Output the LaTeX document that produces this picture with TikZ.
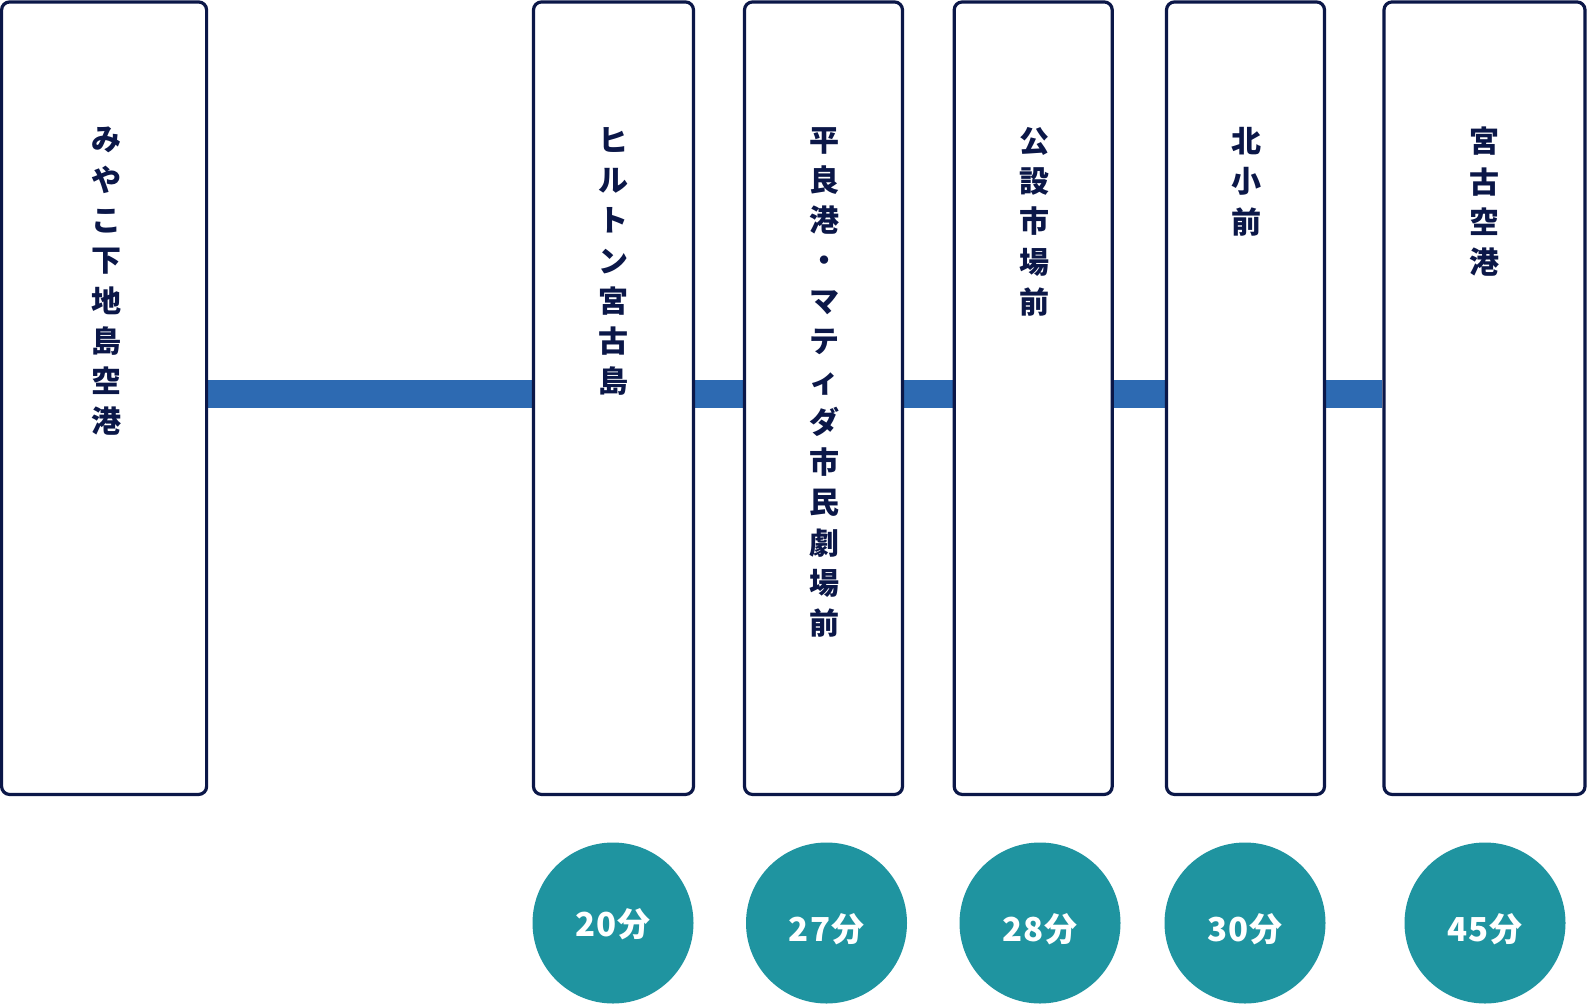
\documentclass[tikz,border=0pt]{standalone}
\usepackage{fontspec}
\newfontfamily\jp{Noto Sans CJK JP}
\usetikzlibrary{backgrounds}
\definecolor{navy}{HTML}{0B1748}
\definecolor{barblue}{HTML}{2D6AB2}
\definecolor{teal}{HTML}{1F94A0}
\tikzset{
  stopbox/.style={draw=navy, line width=3.2pt, rounded corners=8pt, fill=white,
    rectangle, inner sep=0pt, minimum height=792.5pt},
  vlabel/.style={anchor=north, inner sep=0pt, align=center, text=navy,
    font=\jp\bfseries\fontsize{30}{40.3}\selectfont},
  timecirc/.style={circle, fill=teal, draw=none, minimum size=161pt, inner sep=0pt},
  timetext/.style={inner sep=0pt, text=white,
    font=\jp\bfseries\fontsize{33}{34}\selectfont\addfontfeature{LetterSpace=3}},
  linkbar/.style={draw=barblue, line width=28pt}
}
\begin{document}
\begin{tikzpicture}[x=1pt,y=-1pt]
\useasboundingbox (0,0) rectangle (1590,1004);
% boxes
\node[stopbox, minimum width=205pt] (b1) at (104.1,398.2) {};
\node[stopbox, minimum width=160pt] (b2) at (613.5,398.2) {};
\node[stopbox, minimum width=158pt] (b3) at (823.5,398.2) {};
\node[stopbox, minimum width=158pt] (b4) at (1033.2,398.2) {};
\node[stopbox, minimum width=158pt] (b5) at (1245.5,398.2) {};
\node[stopbox, minimum width=201pt] (b6) at (1484.5,398.2) {};
% labels
\node[vlabel] (t1) at (106,127) {み\\や\\こ\\下\\地\\島\\空\\港};
\node[vlabel] (t2) at (613,127) {ヒ\\ル\\ト\\ン\\宮\\古\\島};
\node[vlabel] (t3) at (824,127) {平\\良\\港\\・\\マ\\テ\\ィ\\ダ\\市\\民\\劇\\場\\前};
\node[vlabel] (t4) at (1034,127) {公\\設\\市\\場\\前};
\node[vlabel] (t5) at (1246,127) {北\\小\\前};
\node[vlabel] (t6) at (1484,127) {宮\\古\\空\\港};
% bars
\begin{scope}[on background layer]
\fill[white] (0,0) rectangle (1590,1004);
\draw[linkbar] ([yshift=4pt]b1.east) -- ([yshift=4pt]b2.west);
\draw[linkbar] ([yshift=4pt]b2.east) -- ([yshift=4pt]b3.west);
\draw[linkbar] ([yshift=4pt]b3.east) -- ([yshift=4pt]b4.west);
\draw[linkbar] ([yshift=4pt]b4.east) -- ([yshift=4pt]b5.west);
\draw[linkbar] ([yshift=4pt]b5.east) -- ([yshift=4pt]b6.west);
\end{scope}
% times
\node[timecirc] (c1) at (613,923) {};
\node[timecirc] (c2) at (826.5,923) {};
\node[timecirc] (c3) at (1040,923) {};
\node[timecirc] (c4) at (1245,923) {};
\node[timecirc] (c5) at (1485,923) {};
\node[timetext] (m1) at ([yshift=-1pt]c1.center) {20分};
\node[timetext] (m2) at ([yshift=-6pt]c2.center) {27分};
\node[timetext] (m3) at ([yshift=-6pt]c3.center) {28分};
\node[timetext] (m4) at ([yshift=-6pt]c4.center) {30分};
\node[timetext] (m5) at ([yshift=-6pt]c5.center) {45分};
\end{tikzpicture}
\end{document}
